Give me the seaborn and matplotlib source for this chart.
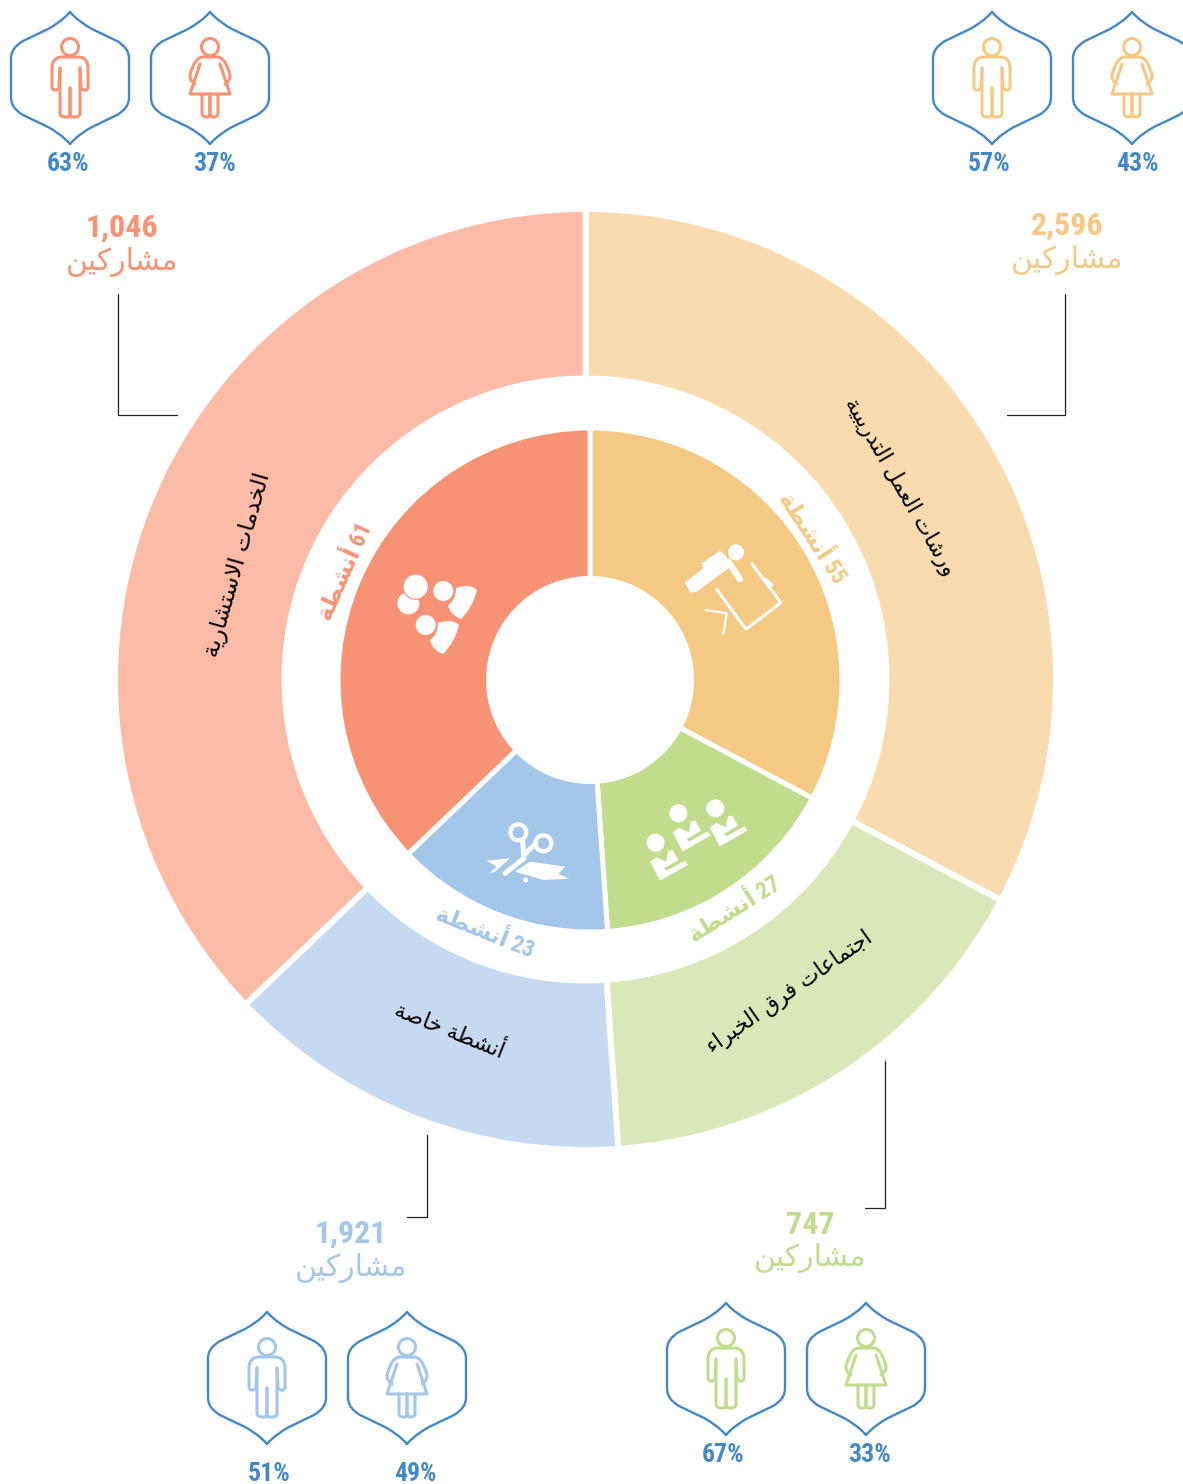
import seaborn as sns
import matplotlib.pyplot as plt
from matplotlib.path import Path
from matplotlib.patches import PathPatch, Circle

# values
groups = ["ورشات العمل التدريبية", "اجتماعات فرق الخبراء", "أنشطة خاصة", "الخدمات الاستشارية"]
activities = [55, 27, 23, 61]
participants = ["2,596", "747", "1,921", "1,046"]
slice_share = [118, 58, 50.3, 133.7]
men_pct = [57, 67, 51, 63]
women_pct = [43, 33, 49, 37]

outer_colors = sns.color_palette(["#F8DBAF", "#DAE7B8", "#C5D9F1", "#FBBBA6"])
inner_colors = sns.color_palette(["#F4C983", "#C0DC8C", "#A4C7E9", "#F79274"])
BLUE = "#4288C8"
WORD_PARTICIPANTS = "مشاركين"
WORD_ACTIVITIES = "أنشطة"

W, H = 1183, 1484
NUM_FONT = ["Roboto Condensed", "DejaVu Sans"]

# matplotlib has no arabic shaping, so letters are joined here by hand
DUAL = {"ب": 0xFE8F, "ت": 0xFE95, "ج": 0xFE9D, "خ": 0xFEA5, "س": 0xFEB1, "ش": 0xFEB5, "ص": 0xFEB9,
        "ط": 0xFEC1, "ع": 0xFEC9, "ف": 0xFED1, "ق": 0xFED5, "ك": 0xFED9, "ل": 0xFEDD, "م": 0xFEE1,
        "ن": 0xFEE5, "ه": 0xFEE9, "ي": 0xFEF1}
RIGHT = {"ء": None, "أ": 0xFE83, "ا": 0xFE8D, "ة": 0xFE93, "د": 0xFEA9, "ر": 0xFEAD, "و": 0xFEED}
LAM_ALEF = {"ا": 0xFEFB, "أ": 0xFEF7}


def shape_word(word):
    if not any(c in DUAL or c in RIGHT for c in word):
        return word
    out = []
    i = 0
    prev_joins = False
    while i < len(word):
        c = word[i]
        if c == "ل" and i + 1 < len(word) and word[i + 1] in LAM_ALEF:
            out.append(chr(LAM_ALEF[word[i + 1]] + (1 if prev_joins else 0)))
            prev_joins = False
            i += 2
            continue
        next_ok = i + 1 < len(word)
        if c == "ء":
            out.append("\uFE80")
            prev_joins = False
        elif c in RIGHT:
            out.append(chr(RIGHT[c] + (1 if prev_joins else 0)))
            prev_joins = False
        else:
            if prev_joins and next_ok:
                form = 3
            elif prev_joins:
                form = 1
            elif next_ok:
                form = 2
            else:
                form = 0
            out.append(chr(DUAL[c] + form))
            prev_joins = next_ok
        i += 1
    return "".join(reversed(out))


def arabic(text):
    words = [shape_word(w) for w in text.split(" ")]
    return " ".join(reversed(words))


def Y(y):
    return H - y


def stroke(ax, codes_pts, color, lw, fill=False):
    # codes_pts: list of (code, x, y) in reference pixels
    verts = [(x, Y(y)) for _, x, y in codes_pts]
    codes = [c for c, _, _ in codes_pts]
    patch = PathPatch(Path(verts, codes), facecolor=color if fill else "none",
                      edgecolor=color if not fill else "none", lw=lw if not fill else 0,
                      capstyle="round", joinstyle="round", zorder=5)
    ax.add_patch(patch)


def poly(pts, closed=False):
    out = [(Path.MOVETO, pts[0][0], pts[0][1])]
    for p in pts[1:]:
        out.append((Path.LINETO, p[0], p[1]))
    if closed:
        out.append((Path.CLOSEPOLY, pts[0][0], pts[0][1]))
    return out


def bez(start, *segs):
    out = [(Path.MOVETO, start[0], start[1])]
    for s in segs:
        if len(s) == 1:
            out.append((Path.LINETO, s[0][0], s[0][1]))
        elif len(s) == 2:
            out += [(Path.CURVE3, p[0], p[1]) for p in s]
        else:
            out += [(Path.CURVE4, p[0], p[1]) for p in s]
    return out


def shift(items, cx, cy):
    return [(c, x + cx, y + cy) for c, x, y in items]


def mirror(items):
    return [(c, -x, y) for c, x, y in items]


def badge(ax, cx, cy):
    half = bez((0, -66),
               ((-7, -58), (-15, -53), (-22, -49)),
               ((-47, -37),),
               ((-55, -32), (-59, -27), (-59, -19)),
               ((-59, 19),),
               ((-59, 27), (-55, 32), (-47, 37)),
               ((-22, 49),),
               ((-15, 53), (-7, 58), (0, 66)))
    stroke(ax, shift(half, cx, cy), BLUE, 1.7)
    stroke(ax, shift(mirror(half), cx, cy), BLUE, 1.7)


def man(ax, cx, cy, color):
    ax.add_patch(Circle((cx, Y(cy - 31)), 8.5, fc="none", ec=color, lw=2.2, zorder=5))
    half = bez((0, -21),
               ((-8, -21),),
               ((-15, -21), (-18, -16), (-18, -10)),
               ((-18, 9),),
               ((-18, 13), (-13, 13), (-11, 10)),
               ((-10, -10),))
    leg = bez((-10, -10), ((-10, 35),), ((-10, 39), (-6, 39), (-3, 39)), ((0, 39), (0, 36), (0, 36)), ((0, 10),))
    for part in (half, leg):
        stroke(ax, shift(part, cx, cy), color, 2.2)
        stroke(ax, shift(mirror(part), cx, cy), color, 2.2)


def woman(ax, cx, cy, color):
    ax.add_patch(Circle((cx, Y(cy - 31)), 8.5, fc="none", ec=color, lw=2.2, zorder=5))
    arm = bez((0, -21), ((-8, -21),), ((-13, -20), (-16, -15), (-18, -9)),
              ((-21, -3), (-21, 2), (-15, 6)))
    skirt = poly([(-10, -14), (-20, 16), (0, 16)])
    leg = bez((-8, 16), ((-8, 35),), ((-8, 39), (-5, 39), (-3, 39)), ((0, 39), (0, 36), (0, 36)), ((0, 16),))
    for part in (arm, skirt, leg):
        stroke(ax, shift(part, cx, cy), color, 2.2)
        stroke(ax, shift(mirror(part), cx, cy), color, 2.2)


def zoomed(x, y):
    # icon points were measured on a 3x crop with corner (380, 520)
    return 380 + x / 3, 520 + y / 3


def z_poly(pts, closed=True):
    return poly([zoomed(*p) for p in pts], closed)


def white_circle(ax, x, y, r):
    zx, zy = zoomed(x, y)
    ax.add_patch(Circle((zx, Y(zy)), r, fc="white", ec="none", zorder=5))


def icon_people(ax):
    white_circle(ax, 85, 250, 11)
    ax.add_patch(Circle((415.7, Y(586.7)), 13.2, fc="#F79274", ec="none", zorder=5))
    white_circle(ax, 107, 200, 12)
    white_circle(ax, 190, 213, 10)
    white_circle(ax, 137, 315, 10)
    body = bez((456, 588), ((470, 583), (477, 590)), ((473, 607), (461, 619)),
               ((450, 615), (448, 605)), ((456, 600), (456, 588)))
    stroke(ax, body, "white", 0, fill=True)
    stroke(ax, shift(body, -18, 35), "white", 0, fill=True)


def icon_training(ax):
    white_circle(ax, 1068, 97, 8)
    stroke(ax, z_poly([(915, 188), (970, 145), (965, 130), (1020, 92), (1040, 110), (1045, 145),
                       (950, 215), (930, 218)]), "white", 0, fill=True)
    stroke(ax, z_poly([(1045, 125), (1080, 178)], False), "white", 4.5)
    stroke(ax, z_poly([(1115, 130), (1202, 248), (1098, 328), (1010, 208)], False), "white", 2.2)
    stroke(ax, z_poly([(1155, 178), (1175, 195)], False), "white", 2.5)
    stroke(ax, z_poly([(977, 270), (1040, 280), (1030, 342)], False), "white", 1.6)


def icon_team(ax):
    body = [(-17, 57), (3, 44), (31, 57), (38, 24), (51, 22), (68, 52), (25, 77), (33, 84),
            (88, 54), (96, 67), (13, 114)]
    for hx, hy in [(827, 968), (895, 880), (1006, 865)]:
        white_circle(ax, hx, hy, 9)
        stroke(ax, z_poly([(hx + a, hy + b) for a, b in body]), "white", 0.8, fill=True)


def icon_scissors(ax):
    for x, y in [(415, 937), (490, 970)]:
        zx, zy = zoomed(x, y)
        ax.add_patch(Circle((zx, Y(zy)), 8, fc="none", ec="white", lw=3, zorder=5))
    stroke(ax, z_poly([(428, 965), (432, 1015), (375, 1060)], False), "white", 3.5)
    stroke(ax, z_poly([(468, 970), (432, 1005)], False), "white", 3.5)
    stroke(ax, z_poly([(320, 1022), (390, 1015), (345, 1055), (328, 1060), (350, 1040)]), "white", 0, fill=True)
    stroke(ax, z_poly([(405, 1055), (450, 1025), (555, 1040), (535, 1062), (568, 1076), (490, 1080)]),
           "white", 0, fill=True)
    white_circle(ax, 437, 1080, 2.5)


sns.set_theme(style="white")
plt.rcParams["font.family"] = ["DejaVu Sans"]

fig = plt.figure(figsize=(W / 100, H / 100), dpi=100)
ax = fig.add_axes([0, 0, 1, 1])

# outer ring (visible 304..468) and inner ring (visible 105..250); edges eat half their width
ax.pie(slice_share, colors=outer_colors, center=(585.5, Y(679.5)), radius=470.5, startangle=90,
       counterclock=False, wedgeprops=dict(width=169.5, edgecolor="white", linewidth=4.3))
ax.pie(slice_share, colors=inner_colors, center=(590, Y(680)), radius=252, startangle=90,
       counterclock=False, wedgeprops=dict(width=150.5, edgecolor="white", linewidth=3.6))
ax.set_xlim(0, W)
ax.set_ylim(0, H)
ax.set_aspect("equal")
ax.axis("off")

icon_training(ax)
icon_team(ax)
icon_scissors(ax)
icon_people(ax)

# labels on the rings
group_pos = [(900, 487, -60), (790, 992, 35), (450, 1030, -22), (238, 565, 74)]
count_pos = [(812, 538, -57), (735, 910, 32), (485, 932, -22), (345, 572, 66)]
group_size = [15.5, 15.5, 15.5, 16.5]
for i, name in enumerate(groups):
    x, y, rot = group_pos[i]
    ax.text(x, Y(y), arabic(name), color="black", fontsize=group_size[i], ha="center", va="center",
            rotation=rot, rotation_mode="anchor", zorder=6)
    x, y, rot = count_pos[i]
    ax.text(x, Y(y), arabic(f"{activities[i]} {WORD_ACTIVITIES}"), color=inner_colors[i], fontsize=16.5,
            family=NUM_FONT, weight="bold", ha="center", va="center", rotation=rot,
            rotation_mode="anchor", zorder=6)

# participants, leader lines
number_pos = [(1067, 226, 260), (810, 1225, 1258), (351, 1234, 1268), (122, 228, 262)]
leaders = [[(1065, 294), (1065, 415), (1007, 415)],
           [(885, 1061), (885, 1208), (865, 1208)],
           [(427, 1135), (427, 1217), (407, 1217)],
           [(118, 294), (118, 415), (177, 415)]]
for i in range(4):
    x, y_num, y_word = number_pos[i]
    ax.text(x, Y(y_num), participants[i], color=inner_colors[i], fontsize=23, family=NUM_FONT,
            weight="bold", ha="center", va="center")
    ax.text(x, Y(y_word), arabic(WORD_PARTICIPANTS), color=inner_colors[i], fontsize=21.5,
            ha="center", va="center")
    ax.plot([p[0] for p in leaders[i]], [Y(p[1]) for p in leaders[i]], color="#222222", lw=0.9,
            solid_joinstyle="miter")

# gender badges
badge_pos = [(992, 1132, 78), (726, 866, 1369), (267, 407, 1378), (70, 210, 78)]
pct_pos = [(989, 1137, 164), (723, 870, 1455), (269, 415, 1474), (68, 215, 164)]
for i in range(4):
    x_m, x_w, y = badge_pos[i]
    badge(ax, x_m, y)
    badge(ax, x_w, y)
    man(ax, x_m, y, inner_colors[i])
    woman(ax, x_w, y, inner_colors[i])
    px_m, px_w, py = pct_pos[i]
    ax.text(px_m, Y(py), f"{men_pct[i]}%", color=BLUE, fontsize=18.5, family=NUM_FONT, weight="bold",
            ha="center", va="center")
    ax.text(px_w, Y(py), f"{women_pct[i]}%", color=BLUE, fontsize=18.5, family=NUM_FONT, weight="bold",
            ha="center", va="center")

fig.savefig("out.png", dpi=100, facecolor="white")
